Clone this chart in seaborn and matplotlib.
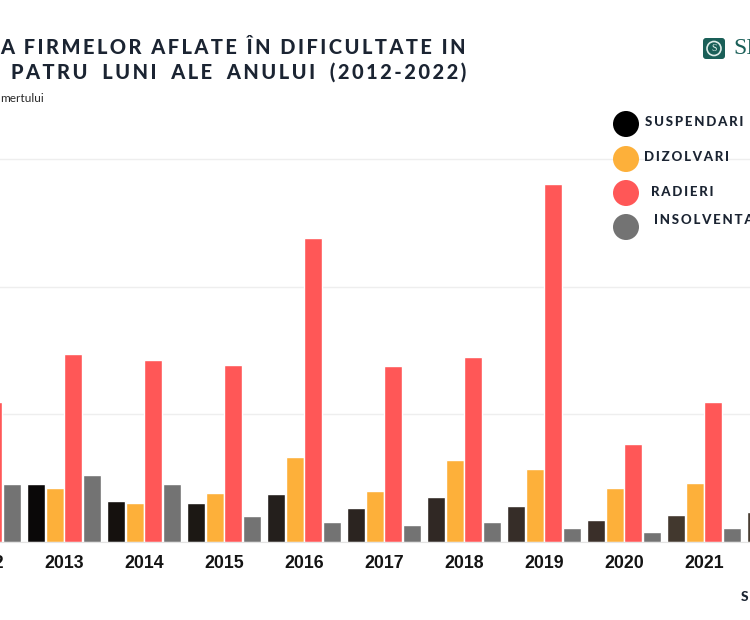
import matplotlib
matplotlib.use("Agg")
import matplotlib.pyplot as plt
from matplotlib.patches import Circle, FancyBboxPatch
import pandas as pd
import seaborn as sns

# values, one grid step = 10000 (y labels are cropped out)
years = ['2012', '2013', '2014', '2015', '2016', '2017', '2018', '2019', '2020', '2021', '2022']
suspendari = [4000, 4510, 3215, 3020, 3690, 2590, 3490, 2780, 1650, 2040, 2350]
dizolvari = [4500, 4160, 3020, 3840, 6590, 3960, 6390, 5650, 4160, 4550, 4000]
radieri = [10980, 14670, 14200, 13840, 23800, 13760, 14470, 28040, 7610, 10940, 8000]
insolventa = [4510, 5180, 4510, 2000, 1530, 1255, 1530, 1020, 745, 1020, 700]
series_names = ['SUSPENDARI', 'DIZOLVARI', 'RADIERI', 'INSOLVENTA']

# the black series gets lighter from year to year in the original
black_shades = ['#050505', '#0a0808', '#15110e', '#1c1814', '#241f1c', '#2b2420',
                '#302824', '#362d28', '#3a2f29', '#42382e', '#483d32']
palette = ['#000000', '#fdb03a', '#ff5757', '#737373']
dark = '#1b2432'
teal = '#1a5f58'

sns.set_style("whitegrid")
plt.rcParams['font.family'] = ['Lato', 'DejaVu Sans']

df = pd.DataFrame({'an': years, 'SUSPENDARI': suspendari, 'DIZOLVARI': dizolvari,
                   'RADIERI': radieri, 'INSOLVENTA': insolventa})
df = df.melt(id_vars='an', var_name='tip', value_name='firme')

W, H = 750, 620
fig = plt.figure(figsize=(W / 100, H / 100), dpi=100, facecolor='white')

# the axes run past the canvas, the original is cropped at both sides
ax = fig.add_axes([-56 / W, (H - 541.5) / H, 880 / W, 422 / H])
sns.barplot(data=df, x='an', y='firme', hue='tip', hue_order=series_names, palette=palette,
            width=.93, gap=.03, saturation=1, legend=False, ax=ax)
for bar, shade in zip(ax.containers[0], black_shades):
    bar.set_facecolor(shade)

ax.set_xlim(-0.5, 10.5)
ax.set_ylim(0, 422 / 127.5 * 10000)
ax.set_yticks([0, 10000, 20000, 30000])
ax.set_yticklabels([])
ax.set_xlabel('')
ax.set_ylabel('')
ax.grid(axis='x', visible=False)
ax.grid(axis='y', color='#eeeeee', linewidth=1)
ax.set_axisbelow(True)
for side in ['top', 'left', 'right']:
    ax.spines[side].set_visible(False)
ax.spines['bottom'].set_color('#e3e3e3')
ax.tick_params(axis='both', length=0)
ax.tick_params(axis='x', pad=10)
for lab in ax.get_xticklabels():
    lab.set_fontfamily('Liberation Sans')
    lab.set_fontweight('bold')
    lab.set_fontsize(12.8)
    lab.set_color('#141414')
    # 2022 falls outside the crop
    if lab.get_text() == '2022':
        lab.set_visible(False)

# overlay in pixel coordinates for title, legend and logo
over = fig.add_axes([0, 0, 1, 1])
over.set_xlim(0, W)
over.set_ylim(H, 0)
over.axis('off')


def tracked(txt, n=1):
    # no letter spacing in matplotlib, hair spaces do the job
    return ('\u200a' * n).join(txt)


over.text(466, 47, tracked('A FIRMELOR AFLATE ÎN DIFICULTATE IN', 2), ha='right', va='center',
          fontsize=14.4, fontweight='black', color=dark)
line2 = tracked('PATRU LUNI ALE ANULUI (2012-2022)', 2).replace(' ', ' ' + '\u200a' * 4)
over.text(466, 72, line2, ha='right', va='center',
          fontsize=14.4, fontweight='black', color=dark)
over.text(0, 98, 'mertului', ha='left', va='center', fontsize=8.6, color='#2a2a2a')

legend_pos = [(626, 124, 645, 122), (626, 159, 644, 157), (626, 193, 651, 192), (626, 227, 654, 220)]
for name, col, (cx, cy, tx, ty) in zip(series_names, palette, legend_pos):
    over.add_patch(Circle((cx, cy), 13, facecolor=col, edgecolor='none'))
    over.text(tx, ty, tracked(name, 2), ha='left', va='center', fontsize=9.5, fontweight='black', color=dark)

# logo
over.add_patch(FancyBboxPatch((704, 39), 20, 19, boxstyle='round,pad=1,rounding_size=3',
                              facecolor=teal, edgecolor='none'))
over.add_patch(Circle((714, 48.5), 7, facecolor='none', edgecolor='#dfeeea', linewidth=1.2))
over.text(714, 48.5, 'S', ha='center', va='center', fontsize=7, family='Liberation Serif', color='#dfeeea')
over.text(733, 48, 'SI', ha='left', va='center', fontsize=17, family='Liberation Serif', color=teal)

# cropped source note
over.text(741, 597, 'S', ha='left', va='center', fontsize=10, fontweight='black', color=dark)

fig.savefig('out.png', dpi=100)
